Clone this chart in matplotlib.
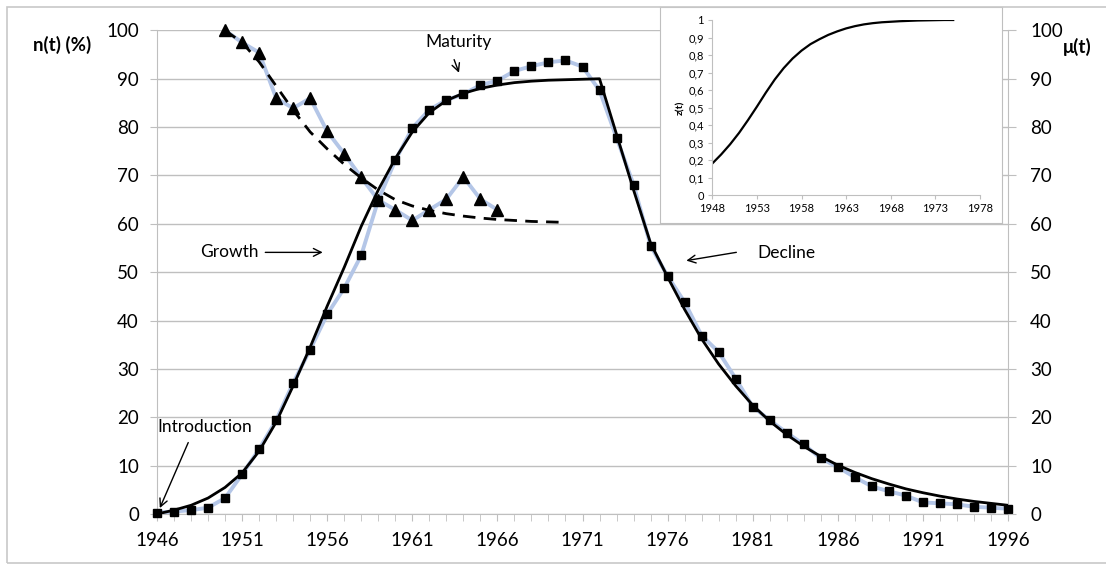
import matplotlib.pyplot as plt
from matplotlib.patches import Rectangle
import numpy as np

plt.rcParams['font.family'] = ['Lato', 'DejaVu Sans']

years = np.arange(1946, 1997)
# observed n(t), squares
n_obs = [0.3, 0.5, 0.8, 1.3, 3.3, 8.2, 13.4, 19.4, 27.1, 34.0,
         41.3, 46.7, 53.5, 64.9, 73.1, 79.8, 83.6, 85.6, 86.8, 88.7,
         89.6, 91.6, 92.6, 93.4, 93.8, 92.5, 87.6, 77.8, 68.1, 55.5,
         49.2, 43.8, 36.9, 33.5, 28.0, 22.2, 19.4, 16.8, 14.4, 11.5,
         9.7, 7.6, 5.7, 4.7, 3.8, 2.4, 2.2, 2.0, 1.5, 1.3, 1.1]
# fitted n(t), black line
n_fit = [0.0, 0.8, 1.8, 3.3, 5.5, 8.5, 13.0, 19.0, 26.5, 34.5,
         43.0, 51.0, 59.5, 67.0, 73.5, 79.0, 83.0, 85.5, 87.0, 88.0,
         88.7, 89.2, 89.5, 89.7, 89.8, 89.9, 90.0, 78.5, 67.0, 56.0,
         49.0, 42.3, 36.2, 31.0, 26.5, 22.5, 19.2, 16.4, 14.0, 11.9,
         10.1, 8.6, 7.3, 6.2, 5.2, 4.4, 3.7, 3.1, 2.6, 2.2, 1.8]

mu_years = np.arange(1950, 1967)
mu_obs = [100, 97.5, 95.4, 86.0, 83.9, 86.0, 79.1, 74.5, 69.6, 64.9,
          62.9, 60.7, 62.9, 65.1, 69.7, 65.1, 62.9]
mu_fit_years = np.arange(1950, 1971)
mu_fit = [100, 97.5, 93.5, 88.5, 83.5, 79.0, 75.5, 72.3, 69.5, 67.0,
          65.0, 63.7, 62.8, 62.1, 61.6, 61.2, 60.9, 60.7, 60.5, 60.4, 60.3]

z_years = np.arange(1948, 1976)
z = [0.18, 0.232, 0.29, 0.355, 0.428, 0.505, 0.585, 0.66, 0.725, 0.78,
     0.825, 0.862, 0.89, 0.915, 0.935, 0.952, 0.965, 0.975, 0.982, 0.987,
     0.99, 0.993, 0.995, 0.997, 0.998, 0.999, 1.0, 1.0]

W, H = 1106, 567
fig = plt.figure(figsize=(W / 100, H / 100), dpi=100)
fig.patches.append(Rectangle((7 / W, 4 / H), 1.2, (H - 11) / H, transform=fig.transFigure,
                             fill=False, edgecolor='#c8c8c8', lw=1.2))

ax = fig.add_axes([157 / W, 1 - 514 / H, (1008 - 157) / W, (514 - 30.4) / H])
blue = '#b4c6e7'
ax.plot(years, n_obs, color=blue, lw=2.8, zorder=2)
ax.plot(mu_years, mu_obs, color=blue, lw=2.8, zorder=2)
ax.plot(years, n_fit, color='black', lw=2, zorder=3)
ax.plot(mu_fit_years, mu_fit, color='black', lw=2, ls=(0, (4.5, 3)), zorder=3)
ax.plot(years, n_obs, 's', color='black', ms=5.8, zorder=4, clip_on=False)
ax.plot(mu_years, mu_obs, '^', color='black', ms=9, zorder=4, clip_on=False)

ax.set_xlim(1946, 1996)
ax.set_ylim(0, 100)
ax.set_xticks(np.arange(1946, 1997, 5))
ax.set_xticks(years, minor=True)
ax.set_yticks(np.arange(0, 101, 10))
ax.yaxis.grid(True, color='#bfbfbf', lw=1)
ax.set_axisbelow(True)
ax.spines['top'].set_visible(False)
for s in ['left', 'right', 'bottom']:
    ax.spines[s].set_color('#bfbfbf')
ax.tick_params(axis='x', which='both', length=5, color='#bfbfbf', labelsize=13.5, pad=8)
ax.tick_params(axis='y', length=5, color='#bfbfbf', labelsize=13.5, pad=8)

ax2 = ax.twinx()
ax2.set_ylim(0, 100)
ax2.set_yticks(np.arange(0, 101, 10))
for s in ax2.spines.values():
    s.set_visible(False)
ax2.tick_params(axis='y', length=6, color='#bfbfbf', labelsize=13.5, pad=10)

fig.text(62 / W, 1 - 45 / H, 'n(t) (%)', fontsize=13.5, fontweight='bold', ha='center', va='center')
fig.text(1077 / W, 1 - 47 / H, 'μ(t)', fontsize=13.5, fontweight='bold', ha='center', va='center')

arr = dict(arrowstyle='->', color='black', lw=1, mutation_scale=14)
ax.text(1963.7, 97.6, 'Maturity', fontsize=12.5, ha='center', va='center')
ax.annotate('', xy=(1963.8, 90.7), xytext=(1963.4, 94.5), arrowprops=arr, annotation_clip=False)
ax.text(1951.95, 54.1, 'Growth', fontsize=12.5, ha='right', va='center')
ax.annotate('', xy=(1955.9, 54.1), xytext=(1952.2, 54.1), arrowprops=arr)
ax.text(1948.8, 18.0, 'Introduction', fontsize=12.5, ha='center', va='center')
ax.annotate('', xy=(1946.1, 0.7), xytext=(1947.9, 15.3), arrowprops=arr)
ax.text(1981.25, 54.0, 'Decline', fontsize=12.5, ha='left', va='center')
ax.annotate('', xy=(1976.94, 52.3), xytext=(1980.2, 54.2), arrowprops=arr)

# inset box
box = fig.add_axes([660 / W, 1 - 223 / H, (1001.7 - 660) / W, (223 - 6.7) / H])
box.set_facecolor('white')
box.set_xticks([])
box.set_yticks([])
for s in box.spines.values():
    s.set_color('#bfbfbf')

zticks = np.round(np.arange(0, 1.01, 0.1), 1)
ins = fig.add_axes([712.3 / W, 1 - 195 / H, (980 - 712.3) / W, (195 - 20) / H])
ins.plot(z_years, z, color='black', lw=1.6)
ins.set_xlim(1948, 1978)
ins.set_ylim(0, 1)
ins.set_xticks(np.arange(1948, 1979, 5))
ins.set_yticks(zticks)
ins.set_yticklabels(['0' if v == 0 else ('1' if v == 1 else ('%.1f' % v).replace('.', ','))
                     for v in zticks])
ins.set_ylabel('z(t)', fontsize=7.5, fontweight='bold', labelpad=2)
ins.spines['top'].set_visible(False)
ins.spines['right'].set_visible(False)
ins.spines['left'].set_color('#bfbfbf')
ins.spines['bottom'].set_color('#bfbfbf')
ins.tick_params(length=3, color='#bfbfbf', labelsize=8, pad=3)
ins.set_facecolor('none')

fig.savefig('out.png', dpi=100)
